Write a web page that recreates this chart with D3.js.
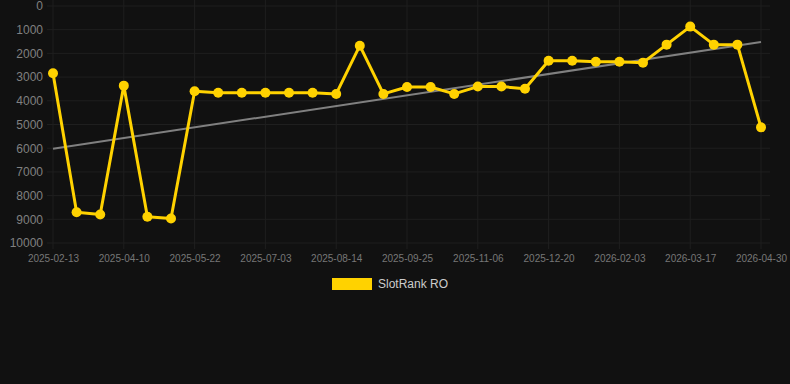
<!doctype html>
<html lang="en">
<head>
  <meta charset="utf-8">
  <title>SlotRank RO</title>
  <style>
    html, body { margin: 0; padding: 0; background: #111111; }
    svg { display: block; font-family: "Liberation Sans", Arial, Helvetica, sans-serif; }
  </style>
</head>
<body>
<svg width="790" height="384"></svg>
<script src="https://cdn.jsdelivr.net/npm/d3@7"></script>
<script>
  // categories (every third one is labelled on the axis)
  var dates = [
    "2025-02-13", "2025-03-06", "2025-03-20", "2025-04-10", "2025-04-24", "2025-05-08",
    "2025-05-22", "2025-06-05", "2025-06-19", "2025-07-03", "2025-07-17", "2025-07-31",
    "2025-08-14", "2025-08-28", "2025-09-11", "2025-09-25", "2025-10-09", "2025-10-23",
    "2025-11-06", "2025-11-20", "2025-12-06", "2025-12-20", "2026-01-06", "2026-01-20",
    "2026-02-03", "2026-02-17", "2026-03-03", "2026-03-17", "2026-04-01", "2026-04-15",
    "2026-04-30"
  ];
  var ranks = [
    2840, 8700, 8800, 3360, 8890, 8970,
    3600, 3660, 3660, 3660, 3660, 3660,
    3710, 1675, 3710, 3420, 3420, 3710,
    3400, 3400, 3490, 2310, 2310, 2350,
    2350, 2390, 1630, 870, 1630, 1630,
    5120
  ];
  var trend = [6020, 1520];   // trend line at first and last category
  var yTicks = [0, 1000, 2000, 3000, 4000, 5000, 6000, 7000, 8000, 9000, 10000];
  var seriesName = "SlotRank RO";

  var svg = d3.select("svg"),
    plotLeft = 53, plotRight = 761, plotTop = 6, plotBottom = 243;

  var x = d3.scalePoint().domain(dates).range([plotLeft, plotRight]);
  var y = d3.scaleLinear().domain([0, 10000]).range([plotTop, plotBottom]);

  // grid
  var grid = svg.append("g");
  grid.selectAll("line.h")
    .data(yTicks)
    .enter().append("line")
    .attr("x1", plotLeft - 6).attr("x2", 770)
    .attr("y1", function (d) { return y(d); })
    .attr("y2", function (d) { return y(d); })
    .attr("stroke", "#1f1f1f").attr("stroke-width", 1);

  var labelled = dates.filter(function (d, i) { return i % 3 === 0; });
  grid.selectAll("line.v")
    .data(labelled)
    .enter().append("line")
    .attr("x1", function (d) { return x(d); })
    .attr("x2", function (d) { return x(d); })
    .attr("y1", 0).attr("y2", plotBottom + 6)
    .attr("stroke", "#1f1f1f").attr("stroke-width", 1);

  // axes
  var yAxis = svg.append("g")
    .attr("transform", "translate(" + (plotLeft - 10) + ",0)")
    .call(d3.axisLeft(y).tickValues(yTicks).tickSize(0).tickPadding(0).tickFormat(d3.format("d")));
  yAxis.select(".domain").remove();
  yAxis.selectAll("text").attr("fill", "#808080").style("font-size", "12px");

  var xAxis = svg.append("g")
    .attr("transform", "translate(0," + (plotBottom + 12) + ")")
    .call(d3.axisBottom(x).tickValues(labelled).tickSize(0).tickPadding(0));
  xAxis.select(".domain").remove();
  xAxis.selectAll("text").attr("fill", "#777777").style("font-size", "10px");

  // trend line
  svg.append("line")
    .attr("x1", x(dates[0])).attr("y1", y(trend[0]))
    .attr("x2", x(dates[dates.length - 1])).attr("y2", y(trend[1]))
    .attr("stroke", "#808080").attr("stroke-width", 2);

  // series
  var gold = "#FFD200";
  svg.append("path")
    .datum(ranks)
    .attr("fill", "none")
    .attr("stroke", gold)
    .attr("stroke-width", 3)
    .attr("stroke-linejoin", "round")
    .attr("d", d3.line()
      .x(function (d, i) { return x(dates[i]); })
      .y(function (d) { return y(d); }));

  svg.selectAll("circle.pt")
    .data(ranks)
    .enter().append("circle")
    .attr("cx", function (d, i) { return x(dates[i]); })
    .attr("cy", function (d) { return y(d); })
    .attr("r", 5)
    .attr("fill", gold);

  // legend
  svg.append("rect")
    .attr("x", 332).attr("y", 278).attr("width", 40).attr("height", 12)
    .attr("fill", gold);
  svg.append("text")
    .attr("x", 378).attr("y", 288)
    .attr("fill", "#cccccc").style("font-size", "12px")
    .text(seriesName);
</script>
</body>
</html>
